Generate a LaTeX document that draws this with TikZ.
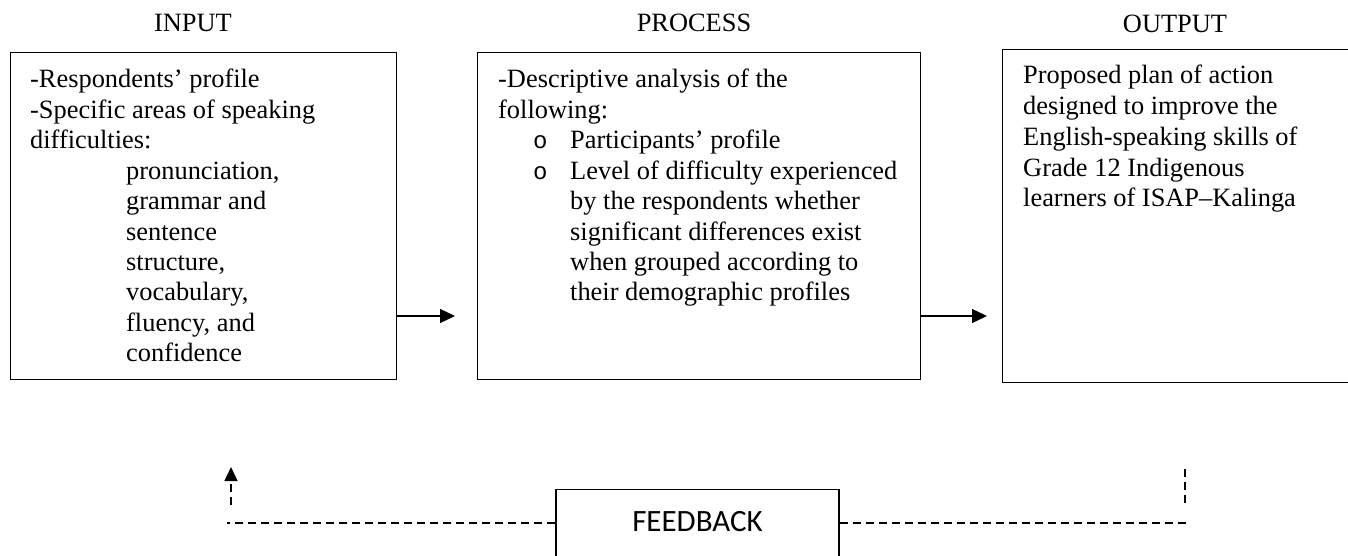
\documentclass[tikz,border=0pt]{standalone}
\usepackage{fontspec}
\setmainfont{Liberation Serif}
\newfontfamily\fbfont{Carlito}
\newfontfamily\bulfont{Liberation Mono}
\usetikzlibrary{arrows.meta}
\tikzset{
  box/.style={draw=black, line width=1.3pt, inner sep=0pt},
  txt/.style={inner sep=0pt, anchor=base west, font=\fontsize{26.4}{30.4}\selectfont},
  ttl/.style={inner sep=0pt, anchor=base, font=\fontsize{26.4}{30.4}\selectfont},
  bul/.style={inner sep=0pt, anchor=base west, font=\bulfont\fontsize{24}{30}\selectfont},
  arr/.style={line width=1.3pt, -{Triangle[length=15pt,width=14pt]}},
  dsh/.style={line width=1.4pt, dash pattern=on 8pt off 5pt},
}
\begin{document}
\begin{tikzpicture}[x=1pt,y=-1pt]
\useasboundingbox (0,0) rectangle (1348,556);
\clip (0,0) rectangle (1348,556);
% titles
\node[ttl] (tin) at (193,32) {INPUT};
\node[ttl] (tpr) at (694,32) {PROCESS};
\node[ttl] (tout) at (1175,33) {OUTPUT};
% boxes
\node[box, minimum width=386pt, minimum height=327pt, anchor=north west] (inbox) at (10,52) {};
\node[box, minimum width=443pt, minimum height=327pt, anchor=north west] (prbox) at (477,52) {};
\node[box, minimum width=380pt, minimum height=333pt, anchor=north west] (outbox) at (1002,49) {};
% input text
\foreach \x/\y/\t [count=\i] in {
  30/88/{-Respondents’ profile},
  30/118.4/{-Specific areas of speaking},
  30/148.8/{difficulties:},
  126/179.2/{pronunciation,},
  126/209.6/{grammar and},
  126/240/{sentence},
  126/270.4/{structure,},
  126/300.8/{vocabulary,},
  126/331.2/{fluency, and},
  126/361.6/{confidence}}
  \node[txt] (inl\i) at (\x,\y) {\t};
% process text
\foreach \x/\y/\t [count=\i] in {
  498/88/{-Descriptive analysis of the},
  498/118.4/{following:},
  570/148.8/{Participants’ profile},
  570/179.2/{Level of difficulty experienced},
  570/209.6/{by the respondents whether},
  570/240/{significant differences exist},
  570/270.4/{when grouped according to},
  570/300.8/{their demographic profiles}}
  \node[txt] (prl\i) at (\x,\y) {\t};
\node[bul] (b1) at (533,148.8) {o};
\node[bul] (b2) at (533,179.2) {o};
% output text
\foreach \y/\t [count=\i] in {
  84/{Proposed plan of action},
  114.7/{designed to improve the},
  145.4/{English-speaking skills of},
  176.1/{Grade 12 Indigenous},
  206.8/{learners of ISAP–Kalinga}}
  \node[txt] (outl\i) at (1023,\y) {\t};
% arrows
\coordinate (a1) at (455,316);
\coordinate (a2) at (987,316);
\draw[arr] (inbox.east |- a1) -- (a1);
\draw[arr] (prbox.east |- a2) -- (a2);
% feedback
\node[box, anchor=north, minimum width=283pt, text height=42pt, text depth=30pt,
      font=\fbfont\fontsize{31}{36}\selectfont] (fb) at (697.5,489) {FEEDBACK};
\coordinate (fl) at (227,523);
\coordinate (fr) at (1187,523);
\coordinate (vl0) at (231,505);
\coordinate (vl1) at (231,467);
\coordinate (vr0) at (1185,503);
\coordinate (vr1) at (1185,467);
\draw[dsh] (fb.west |- fl) -- (fl);
\draw[dsh] (fb.east |- fr) -- (fr);
\draw[dsh, -{Triangle[length=14pt,width=13pt]}] (vl0) -- (vl1);
\draw[dsh] (vr0) -- (vr1);
\end{tikzpicture}
\end{document}
